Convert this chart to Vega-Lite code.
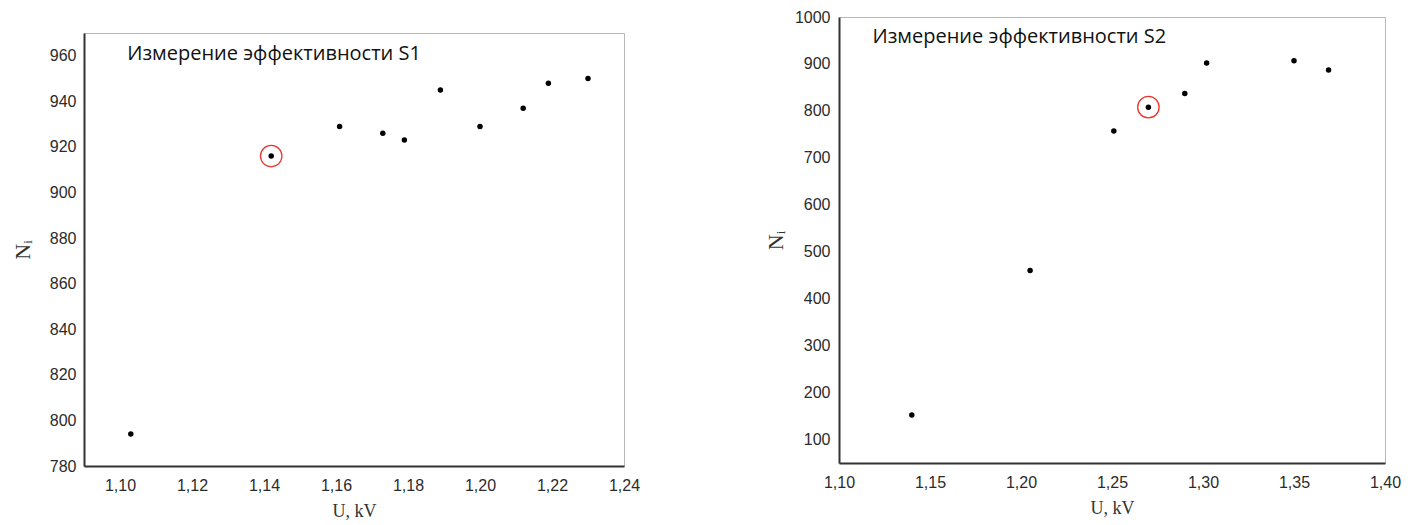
{
  "$schema": "https://vega.github.io/schema/vega-lite/v6.json",
  "background": "white",
  "padding": {"left": 10, "top": 8, "right": 5, "bottom": 0},
  "spacing": 122,
  "config": {
    "view": {"stroke": "#b8b8b8", "strokeWidth": 1},
    "axis": {
      "domainColor": "#333333", "domainWidth": 2,
      "tickColor": "#333333", "tickWidth": 1.5, "tickSize": 0,
      "labelFont": "Liberation Sans", "labelFontSize": 16, "labelColor": "#2b2b2b",
      "titleFont": "Liberation Serif", "titleFontSize": 18, "titleFontWeight": "normal", "titleColor": "#333333",
      "grid": false, "labelFlush": false, "labelOverlap": false
    },
    "axisY": {"titleFontSize": 22}
  },
  "hconcat": [
    {
      "spacing": 14,
      "vconcat": [
        {
          "width": 540, "height": 1,
          "view": {"stroke": null},
          "data": {"values": []},
          "mark": {"type": "point", "opacity": 0}
        },
        {
          "width": 540, "height": 433,
          "layer": [
            {
              "data": {"values": [
                {"U": 1.103, "N": 794, "hl": false},
                {"U": 1.142, "N": 916, "hl": true},
                {"U": 1.161, "N": 929, "hl": false},
                {"U": 1.173, "N": 926, "hl": false},
                {"U": 1.179, "N": 923, "hl": false},
                {"U": 1.189, "N": 945, "hl": false},
                {"U": 1.200, "N": 929, "hl": false},
                {"U": 1.212, "N": 937, "hl": false},
                {"U": 1.219, "N": 948, "hl": false},
                {"U": 1.230, "N": 950, "hl": false}
              ]},
              "layer": [
                {
                  "mark": {"type": "point", "filled": true, "color": "#000000", "size": 30, "opacity": 1},
                  "encoding": {
                    "x": {"field": "U", "type": "quantitative",
                      "scale": {"domain": [1.09, 1.24], "nice": false, "zero": false},
                      "axis": {
                        "values": [1.10, 1.11, 1.12, 1.13, 1.14, 1.15, 1.16, 1.17, 1.18, 1.19, 1.20, 1.21, 1.22, 1.23, 1.24],
                        "labelExpr": "round(datum.value*100) % 2 == 0 ? replace(format(datum.value, '.2f'), '.', ',') : ''",
                        "labelPadding": 11, "title": "U, kV", "titlePadding": 9,
                        "encode": {"ticks": {"update": {"y2": {"signal": "round(datum.value*100) % 2 == 0 ? -8 : -4"}}}}
                      }},
                    "y": {"field": "N", "type": "quantitative",
                      "scale": {"domain": [780, 970], "nice": false, "zero": false},
                      "axis": {
                        "values": [780, 790, 800, 810, 820, 830, 840, 850, 860, 870, 880, 890, 900, 910, 920, 930, 940, 950, 960],
                        "labelExpr": "datum.value % 20 == 0 ? format(datum.value, 'd') : ''",
                        "labelPadding": 8, "title": "Nᵢ", "titlePadding": 15,
                        "encode": {"ticks": {"update": {"x2": {"signal": "datum.value % 20 == 0 ? 8 : 4"}}}}
                      }}
                  }
                },
                {
                  "transform": [{"filter": "datum.hl"}],
                  "mark": {"type": "point", "filled": false, "color": "#e8392f", "size": 460, "strokeWidth": 1.3, "opacity": 1},
                  "encoding": {
                    "x": {"field": "U", "type": "quantitative", "scale": {"domain": [1.09, 1.24], "nice": false, "zero": false}},
                    "y": {"field": "N", "type": "quantitative", "scale": {"domain": [780, 970], "nice": false, "zero": false}}
                  }
                }
              ]
            },
            {
              "data": {"values": [{"label": "Измерение эффективности S1"}]},
              "mark": {"type": "text", "align": "left", "baseline": "middle", "font": "Open Sans", "fontSize": 20, "color": "#111111"},
              "encoding": {
                "text": {"field": "label"},
                "x": {"datum": 1.102, "type": "quantitative", "scale": {"domain": [1.09, 1.24], "nice": false, "zero": false}},
                "y": {"datum": 961, "type": "quantitative", "scale": {"domain": [780, 970], "nice": false, "zero": false}}
              }
            }
          ]
        }
      ]
    },
    {
      "width": 546, "height": 446,
      "layer": [
        {
          "data": {"values": [
            {"U": 1.140, "N": 152, "hl": false},
            {"U": 1.205, "N": 460, "hl": false},
            {"U": 1.251, "N": 757, "hl": false},
            {"U": 1.270, "N": 808, "hl": true},
            {"U": 1.290, "N": 837, "hl": false},
            {"U": 1.302, "N": 902, "hl": false},
            {"U": 1.350, "N": 907, "hl": false},
            {"U": 1.369, "N": 887, "hl": false}
          ]},
          "layer": [
            {
              "mark": {"type": "point", "filled": true, "color": "#000000", "size": 30, "opacity": 1},
              "encoding": {
                "x": {"field": "U", "type": "quantitative",
                  "scale": {"domain": [1.10, 1.40], "nice": false, "zero": false},
                  "axis": {
                    "values": [1.1, 1.125, 1.15, 1.175, 1.2, 1.225, 1.25, 1.275, 1.3, 1.325, 1.35, 1.375, 1.4],
                    "labelExpr": "round(datum.value*1000) % 50 == 0 ? replace(format(datum.value, '.2f'), '.', ',') : ''",
                    "labelPadding": 11, "title": "U, kV", "titlePadding": 9,
                    "encode": {"ticks": {"update": {"y2": {"signal": "round(datum.value*1000) % 50 == 0 ? -8 : -4"}}}}
                  }},
                "y": {"field": "N", "type": "quantitative",
                  "scale": {"domain": [50, 1000], "nice": false, "zero": false},
                  "axis": {
                    "values": [100, 150, 200, 250, 300, 350, 400, 450, 500, 550, 600, 650, 700, 750, 800, 850, 900, 950, 1000],
                    "labelExpr": "datum.value % 100 == 0 ? format(datum.value, 'd') : ''",
                    "labelPadding": 9, "title": "Nᵢ", "titlePadding": 7,
                    "encode": {"ticks": {"update": {"x2": {"signal": "datum.value % 100 == 0 ? 8 : 4"}}}}
                  }}
              }
            },
            {
              "transform": [{"filter": "datum.hl"}],
              "mark": {"type": "point", "filled": false, "color": "#e8392f", "size": 460, "strokeWidth": 1.3, "opacity": 1},
              "encoding": {
                "x": {"field": "U", "type": "quantitative", "scale": {"domain": [1.10, 1.40], "nice": false, "zero": false}},
                "y": {"field": "N", "type": "quantitative", "scale": {"domain": [50, 1000], "nice": false, "zero": false}}
              }
            }
          ]
        },
        {
          "data": {"values": [{"label": "Измерение эффективности S2"}]},
          "mark": {"type": "text", "align": "left", "baseline": "middle", "font": "Open Sans", "fontSize": 20, "color": "#111111"},
          "encoding": {
            "text": {"field": "label"},
            "x": {"datum": 1.1184, "type": "quantitative", "scale": {"domain": [1.10, 1.40], "nice": false, "zero": false}},
            "y": {"datum": 957, "type": "quantitative", "scale": {"domain": [50, 1000], "nice": false, "zero": false}}
          }
        }
      ]
    }
  ]
}
